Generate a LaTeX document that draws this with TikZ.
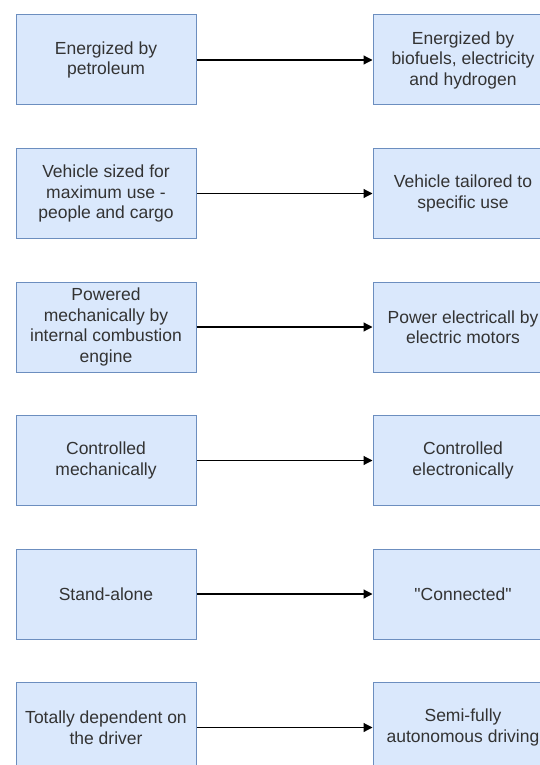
\documentclass[tikz,border=0pt]{standalone}
\usepackage{fontspec}
\setmainfont{Liberation Sans}[Ligatures=TeXOff]
\usepackage{tikz}
\usetikzlibrary{arrows.meta,positioning}
\definecolor{boxfill}{HTML}{DAE8FC}
\definecolor{boxline}{HTML}{6C8EBF}
\definecolor{boxtext}{HTML}{333333}
\tikzset{
  stage/.style={draw=boxline, fill=boxfill, line width=1pt, minimum width=180pt, minimum height=90pt,
    inner sep=2pt, align=center, text=boxtext, font=\fontsize{17.5}{20.5}\selectfont},
  change/.style={-{Triangle[length=9pt,width=9pt]}, line width=1.2pt, draw=black}
}
\begin{document}
\begin{tikzpicture}[x=1pt,y=-1pt]
\useasboundingbox (0,0) rectangle (540,765);
\clip (0,0) rectangle (540,765);
% old vehicle
\node[stage] (old1) at (106,60) {Energized by\\petroleum};
\node[stage] (old2) at (106,193.5) {Vehicle sized for\\maximum use -\\people and cargo};
\node[stage] (old3) at (106,327) {Powered\\mechanically by\\internal combustion\\engine};
\node[stage] (old4) at (106,460.5) {Controlled\\mechanically};
\node[stage] (old5) at (106,594) {Stand-alone};
\node[stage] (old6) at (106,727.5) {Totally dependent on\\the driver};
% new vehicle
\node[stage] (new1) at (463,60) {Energized by\\biofuels, electricity\\and hydrogen};
\node[stage] (new2) at (463,193.5) {Vehicle tailored to\\specific use};
\node[stage] (new3) at (463,327) {Power electricall by\\electric motors};
\node[stage] (new4) at (463,460.5) {Controlled\\electronically};
\node[stage] (new5) at (463,594) {"Connected"};
\node[stage] (new6) at (463,727.5) {Semi-fully\\autonomous driving};
\foreach \i in {1,...,6}
  \draw[change] (old\i) -- (new\i);
\end{tikzpicture}
\end{document}
